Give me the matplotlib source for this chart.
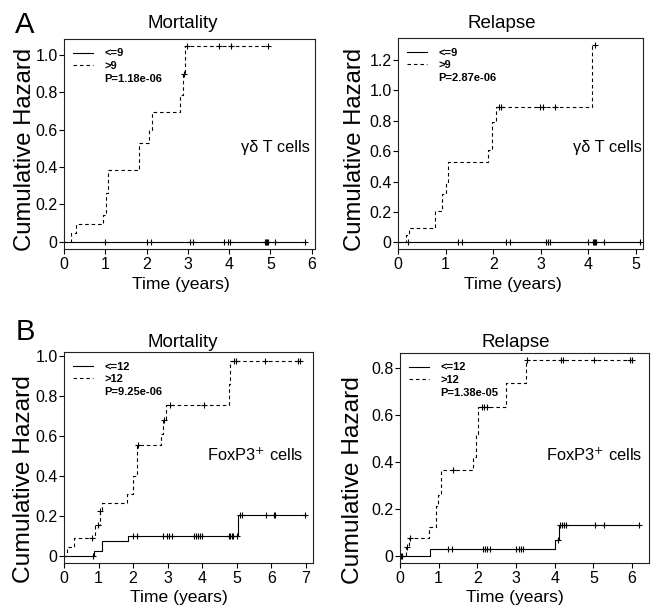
import numpy as np
import matplotlib
matplotlib.use('Agg')
import matplotlib.pyplot as plt
from matplotlib.lines import Line2D
from matplotlib import font_manager as fm
from matplotlib.ticker import FuncFormatter

# ---------------- data ----------------
# Panel A, Mortality (gamma-delta T cells)
mortA_hi_times = [0.16, 0.30, 0.95, 1.01, 1.07, 1.81, 2.07, 2.13, 2.80, 2.88, 2.94]
mortA_hi_haz = [0.048, 0.095, 0.143, 0.26, 0.384, 0.527, 0.60, 0.693, 0.786, 0.897, 1.048]
mortA_hi_end = 4.95
mortA_hi_cens = [2.90, 2.97, 3.75, 4.05, 4.95]
mortA_lo_times = []
mortA_lo_haz = []
mortA_lo_end = 5.84
mortA_lo_cens = [1.0, 2.01, 2.11, 3.05, 3.13, 3.88, 3.97, 4.01, 4.86, 4.89, 4.92, 4.95, 5.10, 5.84]

# Panel A, Relapse
relA_hi_times = [0.17, 0.23, 0.77, 0.93, 1.0, 1.05, 1.89, 1.98, 2.06, 4.07]
relA_hi_haz = [0.045, 0.093, 0.206, 0.316, 0.39, 0.527, 0.607, 0.79, 0.893, 1.30]
relA_hi_end = 4.14
relA_hi_cens = [2.13, 2.17, 2.98, 3.05, 3.30, 4.14]
relA_lo_times = []
relA_lo_haz = []
relA_lo_end = 5.08
relA_lo_cens = [0.2, 1.26, 1.34, 2.28, 2.36, 3.11, 3.15, 3.19, 4.0, 4.1, 4.12, 4.14, 4.16, 4.33, 5.08]

# Panel B, Mortality (FoxP3+ cells)
mortB_hi_times = [0.08, 0.28, 0.89, 1.03, 1.09, 1.83, 2.0, 2.12, 2.80, 2.88, 2.96, 4.77, 4.82]
mortB_hi_haz = [0.045, 0.087, 0.155, 0.222, 0.263, 0.31, 0.40, 0.553, 0.61, 0.678, 0.752, 0.862, 0.975]
mortB_hi_end = 6.85
mortB_hi_cens = [0.82, 0.99, 1.05, 2.13, 2.90, 3.07, 4.05, 4.93, 4.99, 5.83, 6.77, 6.82]
mortB_lo_times = [0.87, 1.10, 1.84, 5.03]
mortB_lo_haz = [0.024, 0.074, 0.096, 0.205]
mortB_lo_end = 6.99
mortB_lo_cens = [0.83, 2.01, 2.11, 2.88, 2.97, 3.04, 3.12, 3.75, 3.83, 3.88, 3.94, 4.01,
                 4.78, 4.82, 4.86, 4.90, 5.0, 5.09, 5.15, 5.86, 6.07, 6.11, 6.99]

# Panel B, Relapse
relB_hi_times = [0.15, 0.22, 0.76, 0.93, 0.98, 1.05, 1.88, 1.96, 2.03, 2.75, 3.25]
relB_hi_haz = [0.036, 0.074, 0.12, 0.21, 0.26, 0.365, 0.42, 0.52, 0.634, 0.737, 0.833]
relB_hi_end = 6.07
relB_hi_cens = [0.19, 0.25, 1.37, 2.11, 2.17, 2.26, 3.28, 4.17, 4.22, 5.01, 5.96, 6.01]
relB_lo_times = [0.78, 4.02, 4.12]
relB_lo_haz = [0.029, 0.068, 0.13]
relB_lo_end = 6.19
relB_lo_cens = [0.02, 0.05, 1.25, 1.35, 2.15, 2.2, 2.26, 2.32, 3.0, 3.07, 3.13, 3.19,
                4.08, 4.15, 4.19, 4.24, 4.3, 5.04, 5.27, 6.19]

labels_A = ["<=9", ">9"]
labels_B = ["<=12", ">12"]
pvals = ["P=1.18e-06", "P=2.87e-06", "P=9.25e-06", "P=1.38e-05"]
titles = ["Mortality", "Relapse", "Mortality", "Relapse"]
xticks_list = [range(0, 7), range(0, 6), range(0, 8), range(0, 7)]
yticks_list = [[0, 0.2, 0.4, 0.6, 0.8, 1.0], [0, 0.2, 0.4, 0.6, 0.8, 1.0, 1.2],
               [0, 0.2, 0.4, 0.6, 0.8, 1.0], [0, 0.2, 0.4, 0.6, 0.8]]

# ---------------- fonts ----------------
W, H = 654, 606
names = {f.name for f in fm.fontManager.ttflist}
SANS = 'Liberation Sans'
NARROW = 'Liberation Sans Narrow' in names
NF = 'Liberation Sans Narrow' if NARROW else SANS
NS = 1.0 if NARROW else 0.84
plt.rcParams['font.family'] = [SANS, 'DejaVu Sans']

fig = plt.figure(figsize=(W / 100, H / 100), dpi=100)


def px_axes(l, t, r, b):
    return fig.add_axes([l / W, 1 - b / H, (r - l) / W, (b - t) / H])


def ftext(x, y, s, **kw):
    fig.text(x / W, 1 - y / H, s, **kw)


DASH = (0, (3.2, 2.6))
LW = 0.8


def draw_curve(ax, times, haz, end, cens, ls, color='black'):
    t = np.r_[0.0, np.asarray(times, float), end]
    h0 = np.r_[0.0, np.asarray(haz, float)]
    h = np.r_[h0, h0[-1]]
    ax.step(t, h, where='post', ls=ls, lw=LW, color=color)
    idx = np.searchsorted(np.asarray(times, float), cens, side='right')
    ax.plot(cens, h0[idx], ls='none', marker='+', ms=5, mew=0.8, color=color)


def fmt_y(v, pos):
    return "0" if abs(v) < 1e-9 else f"{v:.1f}"


def setup(ax, xlim, ylim, xt, yt):
    ax.set_xlim(*xlim)
    ax.set_ylim(*ylim)
    ax.set_xticks(list(xt))
    ax.set_yticks(yt)
    ax.yaxis.set_major_formatter(FuncFormatter(fmt_y))
    ax.tick_params(direction='out', length=3.3, width=0.8, labelsize=11.5, colors='black')
    ax.tick_params(axis='y', pad=1.3)
    ax.tick_params(axis='x', pad=2.8)
    for s in ax.spines.values():
        s.set_linewidth(0.8)
        s.set_color('#222222')


def add_legend(ax, labs, ptxt, wpx, hpx):
    hs = [Line2D([], [], color='black', lw=LW),
          Line2D([], [], color='black', lw=LW, ls=DASH),
          Line2D([], [], ls='none')]
    ax.legend(hs, labs + [ptxt], loc='upper left',
              bbox_to_anchor=(9 / wpx, 1 - 9.5 / hpx), frameon=False,
              prop={'family': SANS, 'size': 8, 'weight': 'bold'},
              handlelength=1.8, handletextpad=1.0, labelspacing=0.25,
              borderpad=0, borderaxespad=0)


# axes boxes (pixel coordinates: left, top, right, bottom)
boxes = [(64, 39, 315, 249), (398, 38, 643, 249), (64, 352, 313, 563), (400, 353, 649, 563)]
xlims = [(0, 6.08), (0, 5.15), (0, 7.21), (0, 6.44)]
ylims = [(-0.039, 1.086), (-0.044, 1.345), (-0.037, 1.02), (-0.032, 0.865)]

curves = [
    [(mortA_lo_times, mortA_lo_haz, mortA_lo_end, mortA_lo_cens, '-'),
     (mortA_hi_times, mortA_hi_haz, mortA_hi_end, mortA_hi_cens, DASH)],
    [(relA_lo_times, relA_lo_haz, relA_lo_end, relA_lo_cens, '-'),
     (relA_hi_times, relA_hi_haz, relA_hi_end, relA_hi_cens, DASH)],
    [(mortB_lo_times, mortB_lo_haz, mortB_lo_end, mortB_lo_cens, '-'),
     (mortB_hi_times, mortB_hi_haz, mortB_hi_end, mortB_hi_cens, DASH)],
    [(relB_lo_times, relB_lo_haz, relB_lo_end, relB_lo_cens, '-'),
     (relB_hi_times, relB_hi_haz, relB_hi_end, relB_hi_cens, DASH)],
]
cell_text = ["\u03b3\u03b4 T cells", "\u03b3\u03b4 T cells", "FoxP3$^{+}$ cells", "FoxP3$^{+}$ cells"]
cell_pos = [(0.980, 0.481), (0.994, 0.479), (0.960, 0.512), (0.972, 0.512)]
leg_labels = [labels_A, labels_A, labels_B, labels_B]

for i in range(4):
    l, t, r, b = boxes[i]
    ax = px_axes(l, t, r, b)
    for (tt, hh, ee, cc, ls) in curves[i]:
        draw_curve(ax, tt, hh, ee, cc, ls)
    setup(ax, xlims[i], ylims[i], xticks_list[i], yticks_list[i])
    add_legend(ax, leg_labels[i], pvals[i], r - l, b - t)
    ax.text(cell_pos[i][0], cell_pos[i][1], cell_text[i], transform=ax.transAxes,
            ha='right', va='center', fontsize=14 * NS, family=[NF, 'DejaVu Sans'])

# titles
title_pos = [(183, 28.3), (502, 28.3), (183, 346.7), (516, 346.7)]
for (x, y), s in zip(title_pos, titles):
    ftext(x, y, s, ha='center', va='baseline', fontsize=13.5, family=[SANS, 'DejaVu Sans'])

# x labels
xl_pos = [(181, 289), (513, 289), (179, 602), (515, 602)]
for (x, y) in xl_pos:
    ftext(x, y, "Time (years)", ha='center', va='baseline', fontsize=15 * NS,
          family=[NF, 'DejaVu Sans'])

# y labels
yl_pos = [(25, 149, 20.5), (355, 149.5, 20.5), (24, 479, 21), (353, 480, 21)]
for (x, y, fs) in yl_pos:
    ftext(x, y, "Cumulative Hazard", ha='center', va='center', rotation=90,
          fontsize=fs * NS, family=[NF, 'DejaVu Sans'])

# panel letters
ftext(25, 33.3, "A", ha='center', va='baseline', fontsize=25 * NS, family=[NF, 'DejaVu Sans'])
ftext(25, 340, "B", ha='center', va='baseline', fontsize=25 * NS, family=[NF, 'DejaVu Sans'])

fig.savefig('out.png', dpi=100)
